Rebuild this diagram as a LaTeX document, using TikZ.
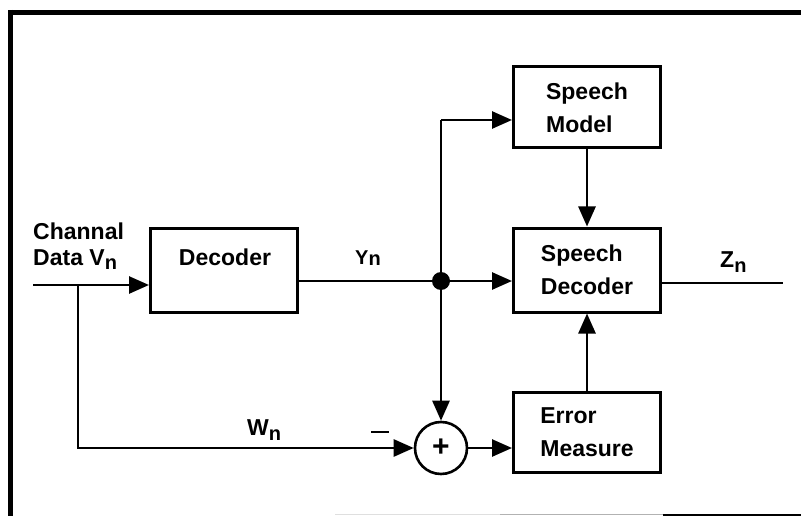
\documentclass[tikz,border=0pt]{standalone}
\usepackage{fontspec}
\setmainfont{Liberation Sans}
\usetikzlibrary{arrows.meta}
\newcommand{\sbn}{\raisebox{-5pt}{\fontsize{20}{20}\selectfont n}}
\begin{document}
\begin{tikzpicture}[x=1pt,y=-1pt,
  box/.style={draw,line width=3pt,minimum width=147pt,align=left,inner sep=0pt,
    font=\fontsize{23}{33}\selectfont\bfseries},
  conn/.style={line width=2.6pt},
  arr/.style={conn,-{Triangle[length=20pt,width=17pt]}},
  lbl/.style={font=\fontsize{23}{33}\selectfont\bfseries,inner sep=0pt},
  sumnode/.style={draw,circle,line width=2.6pt,minimum size=52pt,inner sep=0pt,
    font=\fontsize{30}{30}\selectfont\bfseries},
  frame/.style={line width=5pt}
]
\useasboundingbox (0,0) rectangle (801,516);
% frame
\draw[frame] (8,12.5) -- (801,12.5);
\draw[frame] (10.5,10) -- (10.5,516);
\draw[line width=1pt,gray!25] (335,514.5) -- (500,514.5);
\draw[line width=1.5pt,gray!60] (500,514.5) -- (663,514.5);
\draw[line width=2pt] (663,514.5) -- (801,514.5);

% blocks
\node[box,minimum height=84pt] (dec) at (224,270) {};
\node[lbl] (dectxt) at (225,257) {Decoder};
\node[box,minimum height=81pt] (sm) at (587,107.5) {Speech\\Model};
\node[box,minimum height=84pt] (sd) at (587,270) {Speech\\Decoder};
\node[box,minimum height=80pt] (em) at (587,432) {Error\\Measure};
\node[sumnode] (sum) at (441,448) {+};

% coordinates
\coordinate (in) at (33,285);
\coordinate (br) at (78,285);
\coordinate (j) at (441,281);
\coordinate (top) at (441,120);
\coordinate (out) at (783,283);

% connectors
\draw[arr] (in) -- (in -| dec.west);
\draw[arr] (br) |- (sum.west);
\draw[conn] (dec.east |- j) -- (j);
\draw[arr] (j) -- (j -| sd.west);
\draw[arr] (top) -- (top -| sm.west);
\draw[arr] (top) -- (top |- sum.north);
\draw[arr] (sm) -- (sd);
\draw[arr] (em) -- (sd);
\draw[arr] (sum) -- (sum -| em.west);
\draw[conn] (sd.east |- out) -- (out);
\node[fill,circle,minimum size=18pt,inner sep=0pt] (dot) at (j) {};

% labels
\node[lbl,anchor=base west] (l1) at (33,240) {Channal};
\node[lbl,anchor=base west] (l2) at (33,265) {Data V\sbn};
\node[lbl,anchor=base west,font=\fontsize{20}{20}\selectfont\bfseries] (ly) at (355,264) {Y\raisebox{-1pt}{n}};
\node[lbl,anchor=base west] (lz) at (720,267) {Z\sbn};
\node[lbl,anchor=base west] (lw) at (247,435) {W\sbn};
\node[lbl] (lm) at (380,432) {\rule{18pt}{2.6pt}};
\end{tikzpicture}
\end{document}
